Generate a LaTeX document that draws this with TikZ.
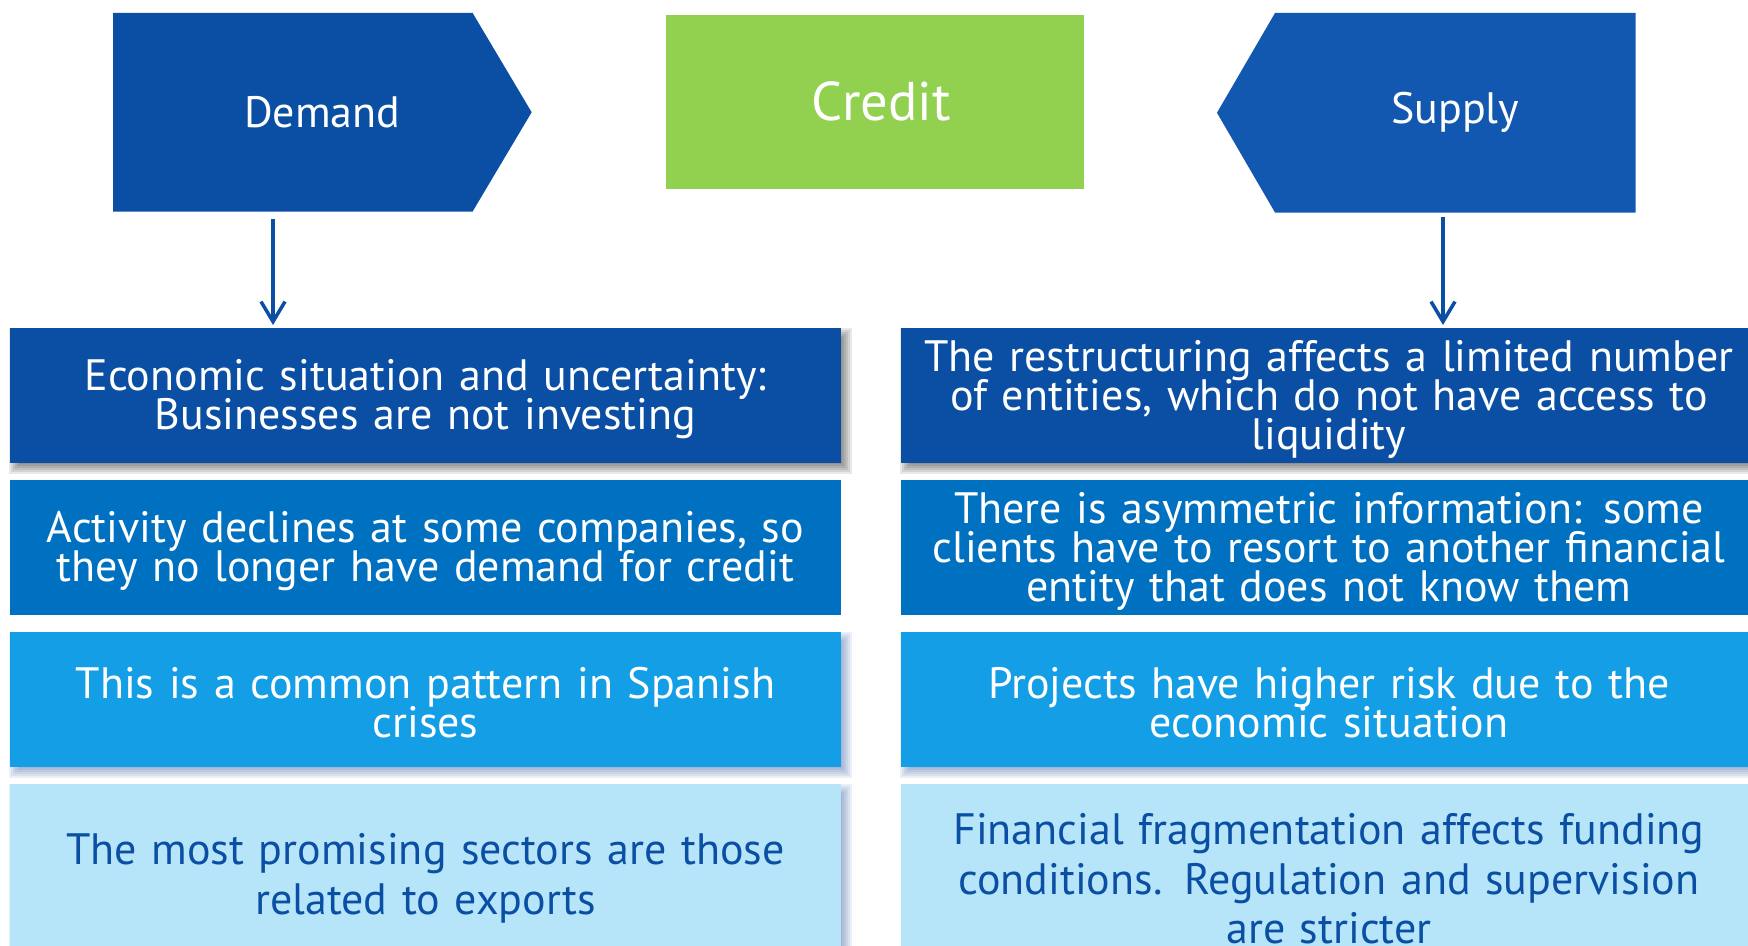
\documentclass[tikz,border=0pt]{standalone}
\usepackage{fontspec}
\setmainfont{PT Sans}
\usetikzlibrary{arrows.meta,calc,backgrounds}

\definecolor{dblue}{HTML}{0A4FA3}
\definecolor{sblue}{HTML}{1258B0}
\definecolor{mblue}{HTML}{0070C0}
\definecolor{lblue}{HTML}{139EE6}
\definecolor{pblue}{HTML}{B6E4F8}
\definecolor{cgreen}{HTML}{92D050}
\definecolor{shadeblue}{HTML}{2A4F9C}

\tikzset{
  cell/.style={rectangle, anchor=north west, inner sep=0pt,
    minimum width=8.31cm, minimum height=1.35cm, text width=8.25cm,
    align=center, text=white},
  info/.style={cell, font=\fontsize{12.5}{11.1}\selectfont,
    execute at begin node={\lineskiplimit=-20pt\relax\rule{0pt}{11pt}}},
  wide/.style={minimum width=8.56cm, text width=8.5cm},
  last/.style={cell, fill=pblue, text=dblue, minimum height=1.9cm,
    font=\fontsize{12.5}{14.2}\selectfont},
  head/.style={rectangle, anchor=north west, inner sep=0pt, text=white},
  flow/.style={draw=dblue, line width=0.035cm, shorten >=0.02cm,
    -{Straight Barb[length=0.2cm,width=0.24cm]}}
}

\begin{document}
\begin{tikzpicture}[x=0.01cm, y=-0.01cm]
\useasboundingbox (0,0) rectangle (1748,946);

\def\boxshadow(#1,#2){
  \foreach \k in {-5,-3,...,5}
    \fill[#2, opacity=0.09] ($(#1.north west)+({5-(\k)},{6-(\k)})$)
      rectangle ($(#1.south east)+({5+(\k)},{6+(\k)})$);
}

% headings
\node[head, minimum width=4.17cm, minimum height=1.97cm,
  font=\fontsize{12.5}{15}\selectfont] (demand) at (113,13) {Demand};
\node[head, fill=cgreen, minimum width=4.18cm, minimum height=1.74cm,
  font=\fontsize{15.5}{18}\selectfont] (credit) at (665,14)
  {\hspace*{0.13cm}Credit};
\node[head, minimum width=3.59cm, minimum height=1.98cm,
  font=\fontsize{12.5}{15}\selectfont] (supply) at (1275,13) {Supply};

% demand side
\node[info, fill=dblue] (d1) at (9,327)
  {Economic situation and uncertainty:\\Businesses are not investing};
\node[info, fill=mblue] (d2) at (9,479)
  {Activity declines at some companies, so\\they no longer have demand for credit};
\node[info, fill=lblue] (d3) at (9,631)
  {This is a common pattern in Spanish\\crises};
\node[last] (d4) at (9,783)
  {The most promising sectors are those\\related to exports};

% supply side
\node[info, wide, fill=dblue] (s1) at (900,327)
  {The restructuring affects a limited number\\of entities, which do not have access to\\liquidity};
\node[info, wide, fill=mblue] (s2) at (900,479)
  {There is asymmetric information: some\\clients have to resort to another financial\\entity that does not know them};
\node[info, wide, fill=lblue] (s3) at (900,631)
  {Projects have higher risk due to the\\economic situation};
\node[last, wide] (s4) at (900,783)
  {Financial fragmentation affects funding\\conditions. Regulation and supervision\\are stricter};

\begin{scope}[on background layer]
  \boxshadow(d1,black)
  \boxshadow(s1,black)
  \boxshadow(d3,shadeblue)
  \boxshadow(s3,shadeblue)
  \boxshadow(d4,shadeblue)
  \fill[dblue] (demand.north west) -- ([xshift=-0.59cm]demand.north east)
    -- (demand.east) -- ([xshift=-0.59cm]demand.south east)
    -- (demand.south west) -- cycle;
  \fill[sblue] (supply.north east) -- (supply.north west)
    -- ([xshift=-0.58cm]supply.west) -- (supply.south west)
    -- (supply.south east) -- cycle;
\end{scope}

\coordinate (dem-out) at (273,219);
\coordinate (sup-out) at (1443,217);
\draw[flow] (dem-out) -- (dem-out |- d1.north);
\draw[flow] (sup-out) -- (sup-out |- s1.north);

\end{tikzpicture}
\end{document}
